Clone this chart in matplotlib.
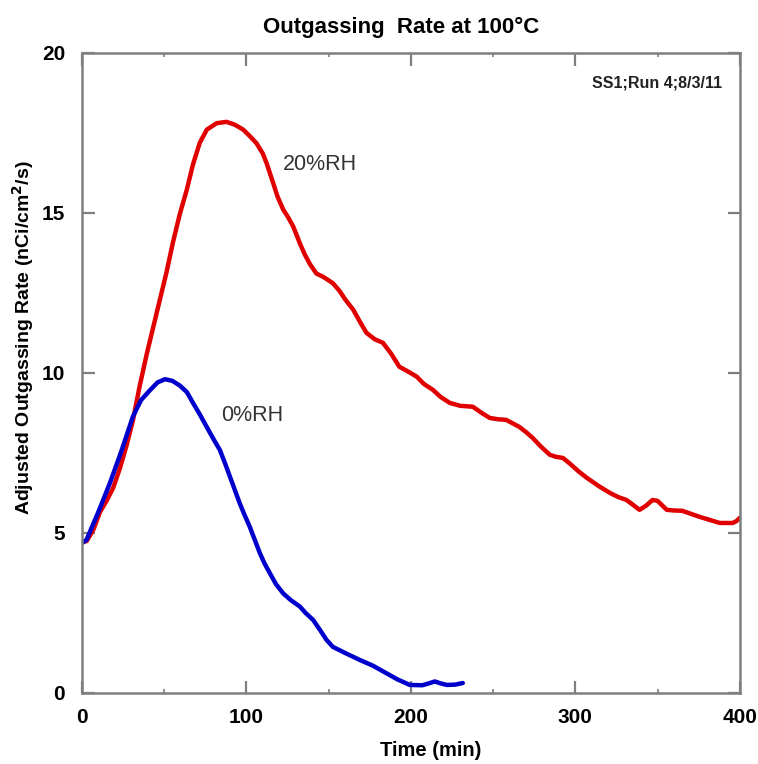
import matplotlib as mpl
import matplotlib.pyplot as plt
from matplotlib.ticker import MultipleLocator

mpl.rcParams.update({
    'font.family': ['Liberation Sans', 'DejaVu Sans'],
    'font.weight': 'bold',
    'axes.labelweight': 'bold',
})

# 20%RH curve (time in min, rate in nCi/cm2/s)
t_20 = [0, 3, 7, 11, 15, 19, 23, 27, 31, 35, 39.5, 43.5, 47.4, 51.5, 55.3,
        59.5, 63.8, 67.5, 71.7, 76, 82, 88, 93, 98, 102, 106.2, 110, 112.3,
        116.3, 119, 122.4, 125.5, 128.5, 132.5, 135.5, 138.6, 142.6, 146.7,
        152.6, 156.8, 160, 165, 169, 173, 178, 183, 188, 193, 198, 203.6, 208,
        213.4, 218, 223.7, 230, 237.7, 243, 248, 253, 258, 262, 266, 270, 274,
        279, 284.5, 288, 292.5, 297, 302, 307, 314, 321, 326, 331, 335, 339,
        343, 347, 350, 355.6, 360, 365, 370, 375.6, 382, 387.8, 395.7, 398, 400]
r_20 = [4.69, 4.75, 5.1, 5.65, 6.0, 6.4, 7.0, 7.7, 8.5, 9.55, 10.6, 11.45,
        12.28, 13.15, 14.06, 14.95, 15.72, 16.5, 17.19, 17.6, 17.8, 17.84,
        17.75, 17.6, 17.4, 17.17, 16.85, 16.55, 15.93, 15.5, 15.1, 14.85,
        14.57, 14.05, 13.7, 13.4, 13.1, 13.0, 12.8, 12.55, 12.3, 11.97, 11.6,
        11.25, 11.05, 10.94, 10.6, 10.19, 10.05, 9.88, 9.65, 9.47, 9.25, 9.06,
        8.97, 8.94, 8.75, 8.59, 8.55, 8.53, 8.42, 8.31, 8.15, 7.97, 7.7, 7.44,
        7.38, 7.34, 7.15, 6.92, 6.72, 6.47, 6.25, 6.12, 6.03, 5.88, 5.72, 5.85,
        6.03, 6.0, 5.72, 5.7, 5.69, 5.6, 5.5, 5.4, 5.31, 5.31, 5.37, 5.47]

# 0%RH curve
t_0 = [0, 2.8, 10, 17, 24, 31, 36, 41.3, 46, 50.5, 55, 59.6, 63.8, 67.7, 71.7,
       75.8, 79.8, 83.9, 87, 90, 93, 96, 99, 102, 105, 108.2, 111, 114.3, 118,
       122.4, 127, 132.5, 136, 140.6, 145, 148.7, 152.6, 160, 169, 177, 185,
       192, 199.4, 207, 211, 214.6, 218, 221.9, 227, 231.6]
r_0 = [4.69, 4.78, 5.65, 6.55, 7.55, 8.63, 9.15, 9.45, 9.7, 9.8, 9.75, 9.6,
       9.4, 9.05, 8.7, 8.32, 7.95, 7.59, 7.18, 6.76, 6.34, 5.92, 5.55, 5.2,
       4.8, 4.37, 4.05, 3.74, 3.4, 3.11, 2.9, 2.7, 2.5, 2.28, 1.95, 1.66,
       1.44, 1.25, 1.03, 0.85, 0.62, 0.42, 0.25, 0.24, 0.3, 0.36, 0.3, 0.25,
       0.26, 0.31]

fig = plt.figure(figsize=(7.58, 7.64), dpi=100)
ax = fig.add_axes([0.108, 0.093, 0.868, 0.838])

ax.plot(t_20, r_20, color='#e00000', linewidth=3.2, solid_capstyle='round',
        solid_joinstyle='round')
ax.plot(t_0, r_0, color='#0000cc', linewidth=3.2, solid_capstyle='round',
        solid_joinstyle='round')

ax.set_xlim(0, 400)
ax.set_ylim(0, 20)
ax.xaxis.set_major_locator(MultipleLocator(100))
ax.xaxis.set_minor_locator(MultipleLocator(50))
ax.yaxis.set_major_locator(MultipleLocator(5))

for s in ax.spines.values():
    s.set_color('#7f7f7f')
    s.set_linewidth(1.8)

ax.tick_params(which='both', direction='in', top=True, right=True,
               color='#7f7f7f', labelsize=15)
ax.tick_params(axis='x', pad=11)
ax.tick_params(axis='y', pad=12)
ax.tick_params(which='major', length=9, width=1.6)
ax.tick_params(which='minor', length=3, width=1.2)
for lab in ax.get_xticklabels() + ax.get_yticklabels():
    lab.set_fontweight('bold')

ax.set_xlabel('Time (min)', fontsize=14.5)
ax.xaxis.set_label_coords(0.53, -0.075)
ax.set_ylabel('Adjusted Outgassing Rate (nCi/cm$^\\mathbf{2}$/s)', fontsize=14)
ax.yaxis.set_label_coords(-0.07, 0.555)

ax.set_title('Outgassing  Rate at 100°C', fontsize=16, fontweight='bold',
             x=0.486, pad=14)

ax.text(122.2, 16.5, '20%RH', fontsize=15.5, fontweight='normal',
        va='center', color='#333333')
ax.text(84.9, 8.67, '0%RH', fontsize=15.5, fontweight='normal',
        va='center', color='#333333')
ax.text(389, 19.05, 'SS1;Run 4;8/3/11', fontsize=11.5, ha='right', va='center',
        fontweight='bold', color='#222222')

fig.savefig('out.png', dpi=100)
